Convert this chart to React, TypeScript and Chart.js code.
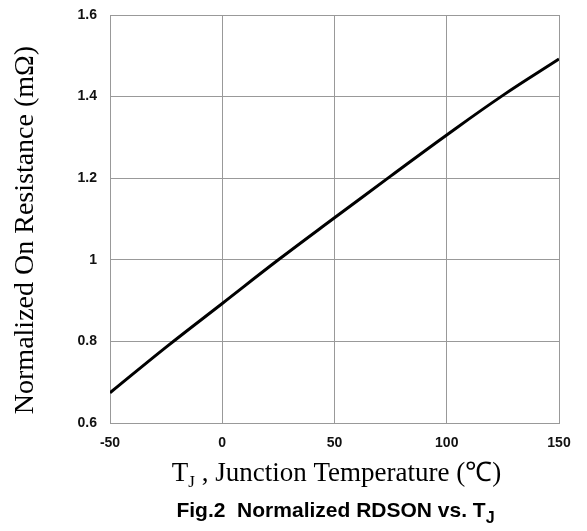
import React, { useEffect, useRef } from "react";
import { Chart, registerables } from "chart.js";

Chart.register(...registerables);

const temperatures = [-50, -25, 0, 25, 50, 75, 100, 125, 150];
const resistance = [0.674, 0.786, 0.893, 1.0, 1.103, 1.205, 1.306, 1.403, 1.492];
const xTicks = [-50, 0, 50, 100, 150];
const yTicks = [0.6, 0.8, 1.0, 1.2, 1.4, 1.6];
const yTickLabels = ["0.6", "0.8", "1", "1.2", "1.4", "1.6"];
const yTitle = "Normalized On Resistance (mΩ)";
const xTitleMain = "T";
const xTitleSub = "J";
const xTitleRest = " , Junction Temperature (℃)";
const captionMain = "Fig.2  Normalized RDSON vs. T";
const captionSub = "J";

const SERIF = "'Liberation Serif', 'Times New Roman', serif";
const SANS = "'Liberation Sans', Arial, sans-serif";

type Part = { text: string; font: string; dy: number };

function drawParts(ctx: CanvasRenderingContext2D, parts: Part[], cx: number, y: number) {
  let total = 0;
  const widths = parts.map((p) => {
    ctx.font = p.font;
    const w = ctx.measureText(p.text).width;
    total += w;
    return w;
  });
  let x = cx - total / 2;
  parts.forEach((p, i) => {
    ctx.font = p.font;
    ctx.fillText(p.text, x, y + p.dy);
    x += widths[i];
  });
}

const titlePlugin = {
  id: "customTitles",
  afterDraw(chart: any) {
    const { ctx, chartArea } = chart;
    const cx = (chartArea.left + chartArea.right) / 2;
    ctx.save();
    ctx.fillStyle = "#000";
    ctx.textAlign = "left";
    ctx.textBaseline = "alphabetic";
    drawParts(
      ctx,
      [
        { text: xTitleMain, font: `27px ${SERIF}`, dy: 0 },
        { text: xTitleSub, font: `17px ${SERIF}`, dy: 6 },
        { text: xTitleRest, font: `27px ${SERIF}`, dy: 0 },
      ],
      cx + 2,
      chartArea.bottom + 58
    );
    drawParts(
      ctx,
      [
        { text: captionMain, font: `bold 21px ${SANS}`, dy: 0 },
        { text: captionSub, font: `bold 16px ${SANS}`, dy: 6 },
      ],
      cx + 1,
      chartArea.bottom + 94
    );
    ctx.translate(chartArea.left - 77, (chartArea.top + chartArea.bottom) / 2 + 11);
    ctx.rotate(-Math.PI / 2);
    ctx.textAlign = "center";
    ctx.font = `28px ${SERIF}`;
    ctx.fillText(yTitle, 0, 0);
    ctx.restore();
  },
};

export default function App() {
  const canvasRef = useRef<HTMLCanvasElement | null>(null);

  useEffect(() => {
    if (!canvasRef.current) return;
    const chart = new Chart(canvasRef.current, {
      type: "line",
      data: {
        datasets: [
          {
            data: temperatures.map((t, i) => ({ x: t, y: resistance[i] })),
            borderColor: "#000",
            borderWidth: 3,
            pointRadius: 0,
            tension: 0.4,
            fill: false,
          },
        ],
      },
      options: {
        responsive: false,
        animation: false,
        layout: { padding: { top: 15, right: 28, left: 0, bottom: 0 } },
        plugins: { legend: { display: false }, tooltip: { enabled: false }, title: { display: false } },
        scales: {
          x: {
            type: "linear",
            min: xTicks[0],
            max: xTicks[xTicks.length - 1],
            afterFit: (s: any) => {
              s.height = 108;
              s.paddingLeft = 0;
              s.paddingRight = 0;
            },
            afterBuildTicks: (s: any) => {
              s.ticks = xTicks.map((v) => ({ value: v }));
            },
            grid: { color: "#999", lineWidth: 1, drawTicks: false },
            border: { color: "#999", width: 1 },
            ticks: {
              padding: 12,
              color: "#111",
              font: { family: SANS, size: 14, weight: "bold" },
              maxRotation: 0,
              callback: (v: any) => String(v),
            },
          },
          y: {
            type: "linear",
            min: yTicks[0],
            max: yTicks[yTicks.length - 1],
            afterFit: (s: any) => {
              s.width = 110;
              s.paddingTop = 0;
              s.paddingBottom = 0;
            },
            afterBuildTicks: (s: any) => {
              s.ticks = yTicks.map((v) => ({ value: v }));
            },
            grid: { color: "#999", lineWidth: 1, drawTicks: false },
            border: { color: "#999", width: 1 },
            ticks: {
              padding: 13,
              color: "#111",
              font: { family: SANS, size: 14, weight: "bold" },
              callback: (v: any) => {
                const i = yTicks.findIndex((t) => Math.abs(t - v) < 1e-6);
                return i >= 0 ? yTickLabels[i] : "";
              },
            },
          },
        },
      },
      plugins: [titlePlugin],
    });
    return () => chart.destroy();
  }, []);

  return (
    <div style={{ position: "fixed", left: 0, top: 0, width: 587, height: 531, background: "#fff" }}>
      <canvas ref={canvasRef} width={587} height={531} style={{ width: 587, height: 531 }} />
    </div>
  );
}
